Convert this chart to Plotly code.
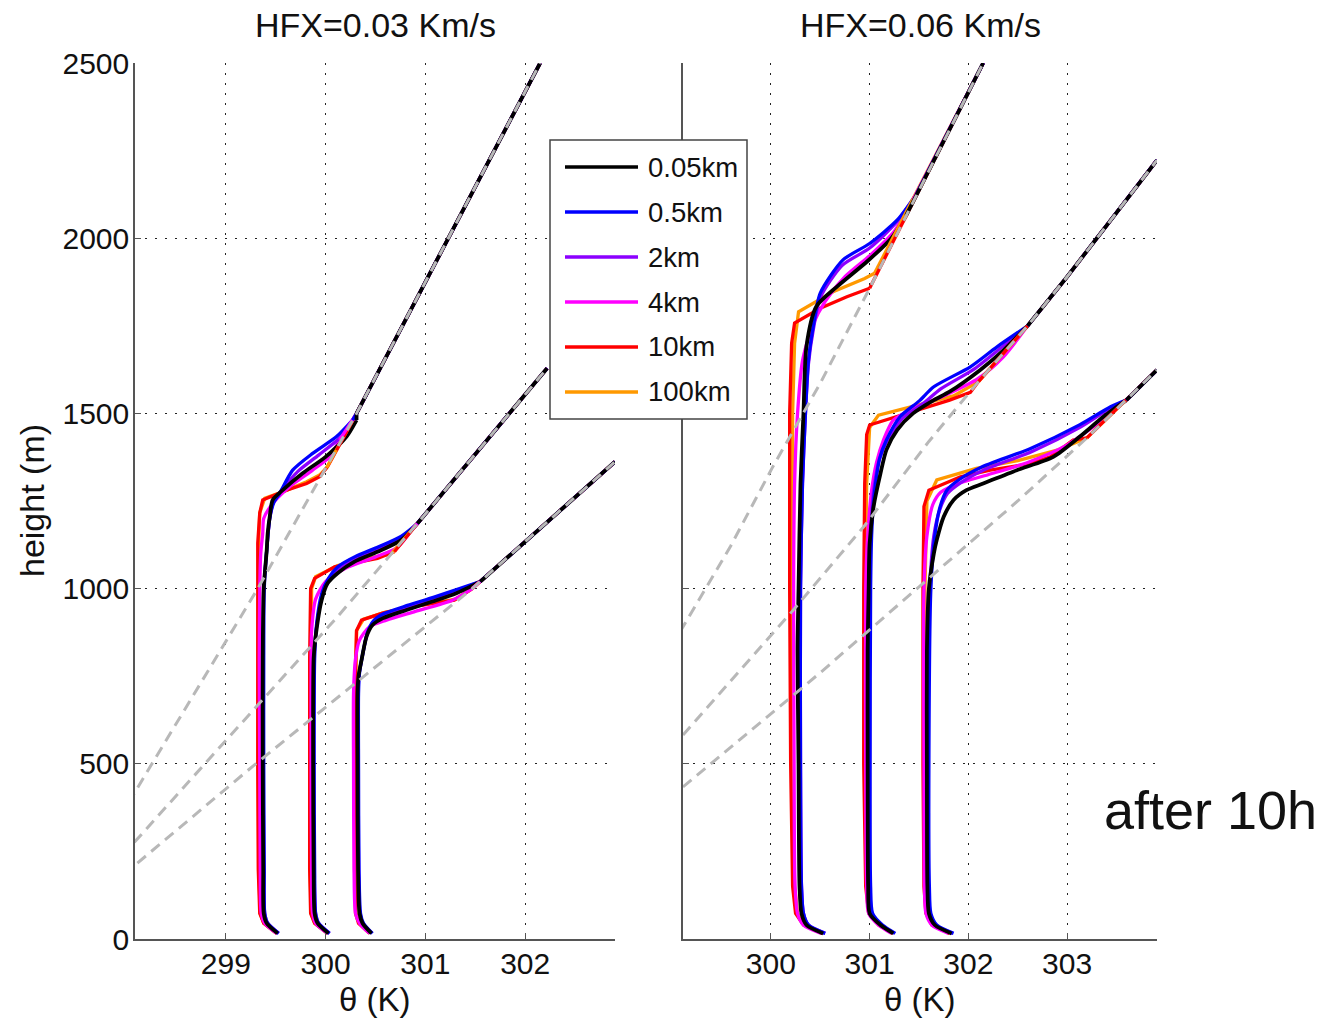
import plotly.graph_objects as go

# ---------------- data (theta in K, height in m) ----------------
RES = ["0.05km", "0.5km", "2km", "4km", "10km", "100km"]
COLORS = {"0.05km": "#000000", "0.5km": "#0000ff", "2km": "#8c00ff",
          "4km": "#ff00ff", "10km": "#ff0000", "100km": "#ff9900"}
DRAW_ORDER = ["100km", "10km", "4km", "2km", "0.5km", "0.05km"]

LEFT_XTICKS = [299, 300, 301, 302]
RIGHT_XTICKS = [300, 301, 302, 303]
YTICKS = [0, 500, 1000, 1500, 2000, 2500]

# initial (free-atmosphere) profiles, dashed grey
L1_init = ([297.84, 298.26, 299.32, 300.31, 301.23, 302.15], [300, 500, 1000, 1500, 2000, 2500])
L2_init = ([297.84, 298.09, 298.79, 300.12, 300.92, 302.22], [200, 278, 500, 920, 1186, 1629])
L3_init = ([297.84, 298.09, 299.3, 301.47, 302.9], [150, 211, 500, 1000, 1362])
R1_init = ([298.71, 299.15, 299.59, 300.02, 300.50, 300.64, 301.0, 302.15], [700, 910, 1120, 1348, 1586, 1662, 1857, 2500])
R2_init = ([299.11, 300.2, 300.95, 301.6, 302.1, 302.6, 303.0, 303.91], [582, 930, 1180, 1420, 1590, 1750, 1890, 2223])
R3_init = ([299.11, 300.5, 301.5, 302.5, 303.2, 303.91], [434, 760, 1005, 1250, 1430, 1624])

# HFX = 0.03 K m/s
L1 = {
    "0.05km": ([299.52, 299.41, 299.38, 299.375, 299.37, 299.37, 299.38, 299.41, 299.42, 299.44, 299.47, 299.57, 299.77, 300.0, 300.21, 300.31],
               [16, 45, 73, 200, 500, 800, 1000, 1110, 1158, 1205, 1253, 1281, 1329, 1376, 1434, 1481]),
    "0.5km": ([299.53, 299.42, 299.39, 299.385, 299.38, 299.38, 299.385, 299.41, 299.44, 299.48, 299.54, 299.67, 299.87, 300.11, 300.27],
              [16, 45, 73, 200, 500, 800, 1000, 1110, 1200, 1245, 1272, 1338, 1386, 1434, 1481]),
    "2km": ([299.53, 299.42, 299.39, 299.38, 299.375, 299.375, 299.38, 299.41, 299.44, 299.48, 299.55, 299.72, 299.93, 300.16, 300.29],
            [16, 45, 73, 200, 500, 800, 1000, 1110, 1200, 1250, 1278, 1334, 1381, 1434, 1481]),
    "4km": ([299.51, 299.39, 299.355, 299.345, 299.34, 299.335, 299.34, 299.35, 299.37, 299.38, 299.47, 299.64, 299.87, 300.04, 300.14],
            [16, 45, 73, 200, 500, 800, 1000, 1100, 1158, 1200, 1243, 1291, 1338, 1376, 1424]),
    "10km": ([299.51, 299.38, 299.34, 299.325, 299.32, 299.32, 299.32, 299.32, 299.34, 299.37, 299.61, 299.81, 299.94, 300.02, 300.11],
             [16, 45, 73, 200, 500, 800, 1000, 1130, 1216, 1253, 1281, 1300, 1319, 1348, 1395]),
    "100km": ([299.51, 299.38, 299.345, 299.33, 299.325, 299.325, 299.325, 299.33, 299.34, 299.39, 299.57, 299.81, 299.94, 300.01],
              [16, 45, 73, 200, 500, 800, 1000, 1130, 1216, 1258, 1276, 1305, 1324, 1345]),
}
L2 = {
    "0.05km": ([300.03, 299.92, 299.89, 299.88, 299.875, 299.88, 299.9, 299.96, 300.02, 300.12, 300.29, 300.52, 300.76, 300.92],
               [16, 45, 73, 200, 500, 800, 863, 967, 1015, 1044, 1077, 1105, 1139, 1186]),
    "0.5km": ([300.04, 299.93, 299.9, 299.89, 299.885, 299.89, 299.91, 299.96, 300.03, 300.12, 300.3, 300.52, 300.76, 300.92],
              [16, 45, 73, 200, 500, 800, 900, 985, 1030, 1062, 1092, 1118, 1150, 1186]),
    "2km": ([300.04, 299.93, 299.9, 299.885, 299.88, 299.885, 299.905, 299.96, 300.02, 300.12, 300.3, 300.52, 300.76, 300.92],
            [16, 45, 73, 200, 500, 800, 880, 975, 1022, 1053, 1085, 1112, 1145, 1186]),
    "4km": ([300.02, 299.9, 299.87, 299.86, 299.855, 299.855, 299.86, 299.9, 300.0, 300.2, 300.5, 300.72, 300.87],
            [16, 45, 73, 200, 500, 800, 880, 970, 1020, 1058, 1090, 1118, 1170]),
    "10km": ([300.02, 299.89, 299.85, 299.84, 299.84, 299.84, 299.85, 299.89, 300.09, 300.52, 300.69],
             [16, 45, 73, 200, 500, 800, 1000, 1029, 1062, 1086, 1105]),
    "100km": ([300.02, 299.89, 299.855, 299.845, 299.845, 299.85, 299.86, 299.9, 300.12, 300.45, 300.66],
              [16, 45, 73, 200, 500, 800, 1000, 1034, 1066, 1088, 1100]),
}
L3 = {
    "0.05km": ([300.46, 300.37, 300.34, 300.325, 300.32, 300.32, 300.33, 300.36, 300.41, 300.47, 300.57, 300.81, 301.07, 301.31, 301.55],
               [16, 45, 73, 200, 500, 701, 750, 796, 863, 896, 915, 939, 963, 987, 1020]),
    "0.5km": ([300.47, 300.38, 300.35, 300.335, 300.33, 300.33, 300.34, 300.37, 300.42, 300.48, 300.58, 300.82, 301.08, 301.32, 301.55],
              [16, 45, 73, 200, 500, 701, 760, 810, 875, 908, 928, 952, 975, 998, 1020]),
    "2km": ([300.465, 300.375, 300.345, 300.33, 300.325, 300.325, 300.335, 300.365, 300.415, 300.475, 300.575, 300.815, 301.075, 301.315, 301.55],
            [16, 45, 73, 200, 500, 701, 755, 803, 869, 902, 921, 946, 969, 993, 1020]),
    "4km": ([300.44, 300.34, 300.3, 300.285, 300.28, 300.28, 300.3, 300.34, 300.44, 300.61, 300.9, 301.27, 301.47],
            [16, 45, 73, 200, 500, 701, 800, 853, 891, 910, 935, 967, 1000]),
    "10km": ([300.44, 300.33, 300.3, 300.29, 300.29, 300.29, 300.31, 300.36, 300.57, 300.9, 301.29, 301.47],
             [16, 45, 73, 200, 500, 682, 880, 910, 930, 950, 967, 1000]),
    "100km": ([300.44, 300.34, 300.305, 300.295, 300.295, 300.3, 300.31, 300.38, 300.6, 300.95, 301.3, 301.47],
              [16, 45, 73, 200, 500, 700, 880, 913, 933, 952, 970, 1000]),
}

# HFX = 0.06 K m/s
R1 = {
    "0.05km": ([300.53, 300.36, 300.31, 300.29, 300.28, 300.27, 300.28, 300.3, 300.33, 300.36, 300.46, 300.67, 300.98, 301.22, 301.37],
               [16, 40, 73, 150, 500, 825, 1000, 1300, 1500, 1691, 1805, 1862, 1935, 2000, 2065]),
    "0.5km": ([300.55, 300.38, 300.33, 300.31, 300.3, 300.3, 300.32, 300.35, 300.38, 300.43, 300.5, 300.73, 301.0, 301.28, 301.48],
              [16, 40, 73, 150, 500, 1000, 1300, 1500, 1650, 1750, 1843, 1938, 1985, 2052, 2128]),
    "2km": ([300.55, 300.38, 300.33, 300.31, 300.3, 300.3, 300.32, 300.35, 300.38, 300.43, 300.5, 300.72, 301.0, 301.27, 301.47],
            [16, 40, 73, 150, 500, 1000, 1300, 1500, 1640, 1740, 1830, 1922, 1972, 2045, 2125]),
    "4km": ([300.51, 300.33, 300.27, 300.245, 300.235, 300.23, 300.24, 300.27, 300.32, 300.42, 300.55, 300.75, 301.0, 301.25, 301.44],
            [16, 40, 73, 150, 500, 1000, 1300, 1500, 1650, 1750, 1820, 1890, 1950, 2020, 2110]),
    "10km": ([300.52, 300.33, 300.25, 300.22, 300.2, 300.19, 300.19, 300.21, 300.24, 300.5, 300.77, 301.0],
             [16, 40, 73, 150, 500, 1000, 1500, 1700, 1758, 1800, 1833, 1857]),
    "100km": ([300.52, 300.34, 300.27, 300.24, 300.22, 300.215, 300.22, 300.24, 300.28, 300.63, 300.95, 301.05],
              [16, 40, 73, 150, 500, 1000, 1500, 1700, 1790, 1847, 1885, 1900]),
}
R2 = {
    "0.05km": ([301.24, 301.11, 301.0, 300.985, 300.98, 300.98, 300.99, 301.0, 301.04, 301.11, 301.17, 301.28, 301.44, 301.65, 301.81, 302.12, 302.36, 302.6],
               [16, 40, 73, 150, 500, 825, 1000, 1129, 1234, 1329, 1396, 1453, 1500, 1538, 1562, 1624, 1681, 1750]),
    "0.5km": ([301.26, 301.13, 301.03, 301.01, 301.005, 301.01, 301.02, 301.04, 301.06, 301.1, 301.17, 301.31, 301.5, 301.65, 302.02, 302.29, 302.6],
              [16, 40, 73, 150, 500, 1000, 1150, 1250, 1300, 1370, 1424, 1491, 1535, 1576, 1633, 1690, 1750]),
    "2km": ([301.25, 301.12, 301.02, 301.0, 300.995, 301.0, 301.01, 301.03, 301.05, 301.1, 301.18, 301.33, 301.55, 301.72, 302.05, 302.32, 302.6],
            [16, 40, 73, 150, 500, 1000, 1150, 1250, 1300, 1370, 1424, 1485, 1530, 1570, 1625, 1685, 1750]),
    "4km": ([301.22, 301.09, 300.99, 300.97, 300.96, 300.96, 300.98, 301.02, 301.07, 301.14, 301.24, 301.45, 301.75, 302.1, 302.35, 302.6],
            [16, 40, 73, 150, 500, 1000, 1150, 1280, 1360, 1424, 1481, 1515, 1550, 1600, 1660, 1750]),
    "10km": ([301.23, 301.09, 300.99, 300.96, 300.94, 300.94, 300.95, 300.97, 301.0, 301.48, 301.81, 302.02, 302.1],
             [16, 40, 73, 150, 500, 1000, 1300, 1440, 1467, 1510, 1538, 1560, 1590]),
    "100km": ([301.23, 301.1, 301.0, 300.97, 300.955, 300.955, 300.97, 301.0, 301.09, 301.48, 301.85, 302.1],
              [16, 40, 73, 150, 500, 1000, 1300, 1460, 1495, 1524, 1550, 1590]),
}
R3 = {
    "0.05km": ([301.83, 301.66, 301.6, 301.585, 301.58, 301.58, 301.6, 301.65, 301.68, 301.75, 301.85, 301.98, 302.15, 302.49, 302.86, 303.13, 303.37, 303.6],
               [16, 40, 73, 150, 500, 825, 1000, 1100, 1139, 1205, 1253, 1281, 1300, 1338, 1376, 1434, 1491, 1538]),
    "0.5km": ([301.85, 301.68, 301.62, 301.605, 301.6, 301.62, 301.66, 301.71, 301.78, 301.9, 302.12, 302.63, 303.13, 303.44, 303.6],
              [16, 40, 73, 150, 500, 1000, 1150, 1230, 1280, 1310, 1345, 1400, 1468, 1519, 1538]),
    "2km": ([301.84, 301.67, 301.61, 301.595, 301.59, 301.61, 301.65, 301.71, 301.79, 301.92, 302.15, 302.65, 303.13, 303.44, 303.6],
            [16, 40, 73, 150, 500, 1000, 1150, 1225, 1272, 1302, 1338, 1392, 1460, 1515, 1538]),
    "4km": ([301.8, 301.63, 301.57, 301.555, 301.55, 301.55, 301.58, 301.64, 301.72, 301.9, 302.2, 302.6, 303.0, 303.35, 303.6],
            [16, 40, 73, 150, 500, 1000, 1150, 1240, 1275, 1300, 1325, 1360, 1410, 1480, 1538]),
    "10km": ([301.81, 301.63, 301.57, 301.55, 301.54, 301.54, 301.55, 301.6, 301.92, 302.22, 302.63, 302.83, 303.06, 303.2],
             [16, 40, 73, 150, 500, 1000, 1234, 1281, 1319, 1338, 1357, 1376, 1424, 1430]),
    "100km": ([301.81, 301.64, 301.58, 301.56, 301.555, 301.56, 301.58, 301.68, 302.08, 302.5, 302.9, 303.2],
              [16, 40, 73, 150, 500, 1000, 1250, 1310, 1343, 1365, 1395, 1430]),
}

PANELS = [("x", "y", [(L1, L1_init), (L2, L2_init), (L3, L3_init)]),
          ("x2", "y2", [(R1, R1_init), (R2, R2_init), (R3, R3_init)])]

# ---------------- figure ----------------
W, H = 1330, 1021
FONT = "Liberation Sans, Arial, Helvetica, sans-serif"
fig = go.Figure()


def width_of(r):
    return 3.8 if r == "0.05km" else 3.3


for xa, ya, groups in PANELS:
    for prof, init in groups:
        ith, iz = init
        # boundary-layer part of each profile
        for r in DRAW_ORDER:
            th, z = prof[r]
            smooth = r not in ("10km", "100km")
            fig.add_trace(go.Scatter(
                x=th, y=z, xaxis=xa, yaxis=ya, mode="lines",
                line=dict(color=COLORS[r], width=width_of(r),
                          shape="spline" if smooth else "linear",
                          smoothing=0.7 if smooth else None),
                showlegend=False, hoverinfo="skip"))
        # part above the boundary layer, following the initial profile
        for r in DRAW_ORDER:
            th, z = prof[r]
            th_up = [th[-1]] + [t for t, h in zip(ith, iz) if h > z[-1] + 5]
            z_up = [z[-1]] + [h for h in iz if h > z[-1] + 5]
            fig.add_trace(go.Scatter(
                x=th_up, y=z_up, xaxis=xa, yaxis=ya, mode="lines",
                line=dict(color=COLORS[r], width=width_of(r)),
                showlegend=False, hoverinfo="skip"))
    for prof, init in groups:
        ith, iz = init
        fig.add_trace(go.Scatter(
            x=ith, y=iz, xaxis=xa, yaxis=ya, mode="lines",
            line=dict(color="#b8b8b8", width=3, dash="11px,7px"),
            showlegend=False, hoverinfo="skip"))


def px2x(p):
    return p / W


def py2y(p):
    return 1 - p / H


axis_common = dict(showline=True, linecolor="#555555", linewidth=1.5,
                   ticks="inside", ticklen=6, tickcolor="#555555", tickwidth=1,
                   showgrid=True, gridcolor="#222222", gridwidth=1, griddash="2px,8px",
                   zeroline=False, mirror=False, automargin=False,
                   tickfont=dict(family=FONT, size=30, color="#111111"))

ydom = [py2y(939), py2y(63)]
fig.update_layout(
    width=W, height=H, margin=dict(l=0, r=0, t=0, b=0, pad=0, autoexpand=False),
    paper_bgcolor="white", plot_bgcolor="white", showlegend=False,
    xaxis=dict(domain=[px2x(135), px2x(615)], range=[298.09, 302.9],
               tickvals=LEFT_XTICKS, anchor="y", ticklabelstandoff=-3, **axis_common),
    yaxis=dict(domain=ydom, range=[0, 2500], tickvals=YTICKS, anchor="x",
               ticklabelstandoff=-2, **axis_common),
    xaxis2=dict(domain=[px2x(683), px2x(1157)], range=[299.11, 303.91],
                tickvals=RIGHT_XTICKS, anchor="y2", ticklabelstandoff=-3, **axis_common),
    yaxis2=dict(domain=ydom, range=[0, 2500], tickvals=YTICKS, anchor="x2",
                showticklabels=False, **axis_common),
)

ann = []


def text(x, y, s, size, **kw):
    ann.append(dict(x=px2x(x), y=py2y(y), xref="paper", yref="paper", text=s,
                    xanchor="center", yanchor="middle", showarrow=False,
                    font=dict(family=FONT, size=size, color="#111111"), **kw))


text(375, 25, "HFX=0.03 Km/s", 34)
text(920, 25, "HFX=0.06 Km/s", 34)
text(375, 999, "θ (K)", 33)
text(920, 999, "θ (K)", 33)
text(32, 501, "height (m)", 34, textangle=-90)
text(1210, 810, "after 10h", 54)

# legend (drawn as a box with sample lines)
shapes = [dict(type="rect", xref="paper", yref="paper", x0=px2x(550), x1=px2x(747),
               y0=py2y(419), y1=py2y(140), fillcolor="white",
               line=dict(color="#444444", width=1.5), layer="above")]
leg_y = [167, 212, 257, 302, 347, 392]
for r, yy in zip(RES, leg_y):
    shapes.append(dict(type="line", xref="paper", yref="paper", x0=px2x(565), x1=px2x(638),
                       y0=py2y(yy), y1=py2y(yy), line=dict(color=COLORS[r], width=3.5),
                       layer="above"))
    ann.append(dict(x=px2x(646), y=py2y(yy), xref="paper", yref="paper", text=r,
                    xanchor="left", yanchor="middle", showarrow=False,
                    font=dict(family=FONT, size=27.5, color="#111111")))

fig.update_layout(annotations=ann, shapes=shapes)
fig.write_html("out.html")
